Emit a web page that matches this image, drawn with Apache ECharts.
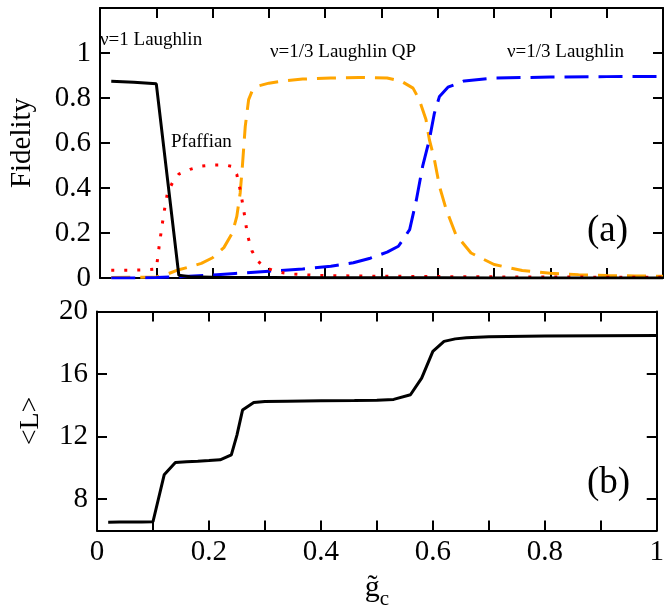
<!DOCTYPE html>
<html>
<head>
<meta charset="utf-8">
<script src="https://cdn.jsdelivr.net/npm/echarts@6/dist/echarts.min.js"></script>
<style>
html,body{margin:0;padding:0;background:#fff;}
#chart{width:667px;height:612px;}
</style>
</head>
<body>
<div id="chart"></div>
<script>
// ---- Data ----
// Panel (a): Fidelity vs g_c
var nu1X = [0.02,0.04,0.06,0.08,0.10,0.12,0.14,0.16,0.20,0.30,0.40,0.50,0.60,0.70,0.80,0.90,1.00];
var nu1Y = [0.874,0.872,0.870,0.867,0.863,0.437,0.012,0.006,0.003,0.002,0.001,0.001,0.001,0,0,0,0];

var pfX = [0.02,0.04,0.06,0.08,0.10,0.105,0.11,0.115,0.12,0.13,0.14,0.16,0.18,0.20,0.22,0.235,0.243,0.25,0.256,0.262,0.27,0.28,0.29,0.30,0.32,0.34,0.38,0.45,0.55,0.70,0.85,1.00];
var pfY = [0.035,0.035,0.035,0.036,0.04,0.14,0.23,0.31,0.38,0.43,0.462,0.483,0.497,0.502,0.503,0.496,0.46,0.38,0.29,0.19,0.12,0.075,0.055,0.04,0.025,0.018,0.012,0.009,0.007,0.005,0.004,0.003];

var qpX = [0.02,0.06,0.10,0.12,0.14,0.16,0.18,0.20,0.22,0.235,0.243,0.249,0.253,0.258,0.264,0.27,0.28,0.30,0.32,0.36,0.41,0.46,0.51,0.535,0.556,0.567,0.579,0.585,0.594,0.603,0.615,0.632,0.659,0.70,0.75,0.80,0.85,0.90,0.95,1.00];
var qpY = [0.002,0.003,0.005,0.018,0.037,0.05,0.065,0.09,0.135,0.2,0.274,0.378,0.5,0.674,0.793,0.83,0.853,0.866,0.874,0.884,0.889,0.891,0.889,0.875,0.844,0.793,0.704,0.615,0.526,0.407,0.304,0.193,0.111,0.06,0.033,0.021,0.015,0.011,0.009,0.008];

var nu13X = [0.02,0.06,0.10,0.14,0.20,0.24,0.30,0.36,0.41,0.45,0.48,0.51,0.53,0.55,0.562,0.573,0.585,0.594,0.603,0.618,0.647,0.70,0.80,0.90,1.00];
var nu13Y = [0.0,0.0,0.002,0.006,0.013,0.02,0.03,0.04,0.052,0.068,0.088,0.115,0.141,0.215,0.348,0.496,0.615,0.733,0.807,0.848,0.876,0.889,0.893,0.895,0.896];

// Panel (b): <L> vs g_c
var lX = [0.02,0.04,0.06,0.08,0.10,0.12,0.14,0.16,0.18,0.20,0.22,0.24,0.25,0.26,0.28,0.30,0.34,0.40,0.46,0.50,0.53,0.56,0.58,0.60,0.62,0.64,0.66,0.70,0.80,0.90,1.00];
var lY = [6.53,6.54,6.54,6.55,6.56,9.56,10.34,10.40,10.43,10.47,10.52,10.84,12.1,13.7,14.18,14.24,14.27,14.29,14.31,14.33,14.38,14.68,15.74,17.45,18.09,18.25,18.32,18.38,18.43,18.45,18.47];

// Tick labels
var xTickLabels = [0,0.2,0.4,0.6,0.8,1];
var fidTickLabels = [0,0.2,0.4,0.6,0.8,1];
var lTickLabels = [8,12,16,20];

var annotations = {
  nu1: '\u03bd=1 Laughlin',
  qp: '\u03bd=1/3 Laughlin QP',
  nu13: '\u03bd=1/3 Laughlin',
  pf: 'Pfaffian',
  a: '(a)',
  b: '(b)'
};

function zip(xs, ys){ return xs.map(function(x,i){ return [x, ys[i]]; }); }

var FONT = 'Liberation Serif';
var tickStyle = {inside:true, length:10, lineStyle:{color:'#000', width:2}};
var lineStyle = {onZero:false, lineStyle:{color:'#000', width:2}};
function fmt(v){ return String(Math.round(v*10)/10); }

var chart = echarts.init(document.getElementById('chart'), null, {renderer:'canvas'});
var option = {
  animation:false,
  backgroundColor:'#fff',
  grid:[
    {left:97, right:4, top:8, height:270},
    {left:97, right:4, top:311.5, height:219}
  ],
  xAxis:[
    {gridIndex:0, type:'value', position:'bottom', min:0, max:1, interval:0.1,
     axisLine:lineStyle, axisTick:tickStyle, axisLabel:{show:false}, splitLine:{show:false}},
    {gridIndex:0, type:'value', position:'top', min:0, max:1, interval:0.1,
     axisLine:lineStyle, axisTick:tickStyle, axisLabel:{show:false}, splitLine:{show:false}},
    {gridIndex:1, type:'value', position:'bottom', min:0, max:1, interval:0.1,
     axisLine:lineStyle, axisTick:tickStyle,
     axisLabel:{customValues:xTickLabels, formatter:fmt, fontFamily:FONT, fontSize:29, color:'#000', margin:7},
     splitLine:{show:false},
     name:'{g|g\u0303}{c|c}', nameLocation:'middle', nameGap:36,
     nameTextStyle:{fontFamily:FONT, color:'#000', fontSize:30,
       rich:{g:{fontFamily:FONT, fontSize:30, color:'#000'},
             c:{fontFamily:FONT, fontSize:21, color:'#000', padding:[22,0,0,0]}}}},
    {gridIndex:1, type:'value', position:'top', min:0, max:1, interval:0.1,
     axisLine:lineStyle, axisTick:tickStyle, axisLabel:{show:false}, splitLine:{show:false}}
  ],
  yAxis:[
    {gridIndex:0, type:'value', position:'left', min:0, max:1.2, interval:0.2,
     axisLine:lineStyle, axisTick:Object.assign({customValues:[0.2,0.4,0.6,0.8,1]}, tickStyle),
     axisLabel:{customValues:fidTickLabels, formatter:fmt, fontFamily:FONT, fontSize:29, color:'#000', margin:9},
     splitLine:{show:false},
     name:'Fidelity', nameLocation:'middle', nameGap:63, nameRotate:90,
     nameTextStyle:{fontFamily:FONT, fontSize:29, color:'#000'}},
    {gridIndex:0, type:'value', position:'right', min:0, max:1.2, interval:0.2,
     axisLine:lineStyle, axisTick:Object.assign({customValues:[0.2,0.4,0.6,0.8,1]}, tickStyle),
     axisLabel:{show:false}, splitLine:{show:false}},
    {gridIndex:1, type:'value', position:'left', min:6, max:20, interval:2,
     axisLine:lineStyle, axisTick:Object.assign({customValues:[8,12,16]}, tickStyle),
     axisLabel:{customValues:lTickLabels, fontFamily:FONT, fontSize:29, color:'#000', margin:9},
     splitLine:{show:false},
     name:'<L>', nameLocation:'middle', nameGap:52, nameRotate:90,
     nameTextStyle:{fontFamily:FONT, fontSize:28, color:'#000'}},
    {gridIndex:1, type:'value', position:'right', min:6, max:20, interval:2,
     axisLine:lineStyle, axisTick:Object.assign({customValues:[8,12,16]}, tickStyle),
     axisLabel:{show:false}, splitLine:{show:false}}
  ],
  series:[
    {type:'line', xAxisIndex:0, yAxisIndex:0, data:zip(nu1X, nu1Y), showSymbol:false, z:5,
     lineStyle:{color:'#000', width:3}},
    {type:'line', xAxisIndex:0, yAxisIndex:0, data:zip(pfX, pfY), showSymbol:false, z:4,
     lineStyle:{color:'#ff0000', width:3, type:[3,10]}},
    {type:'line', xAxisIndex:0, yAxisIndex:0, data:zip(qpX, qpY), showSymbol:false, z:3,
     lineStyle:{color:'#ffa500', width:3, type:[19,10]}},
    {type:'line', xAxisIndex:0, yAxisIndex:0, data:zip(nu13X, nu13Y), showSymbol:false, z:3,
     lineStyle:{color:'#0000ff', width:3, type:[24,10]}},
    {type:'line', xAxisIndex:2, yAxisIndex:2, data:zip(lX, lY), showSymbol:false,
     lineStyle:{color:'#000', width:3}}
  ],
  graphic:[
    {type:'text', left:100, top:31, style:{text:annotations.nu1, font:'19px "Liberation Serif"', fill:'#000'}},
    {type:'text', left:270, top:43, style:{text:annotations.qp, font:'19px "Liberation Serif"', fill:'#000'}},
    {type:'text', left:507, top:43, style:{text:annotations.nu13, font:'19px "Liberation Serif"', fill:'#000'}},
    {type:'text', left:171, top:133, style:{text:annotations.pf, font:'19px "Liberation Serif"', fill:'#000'}},
    {type:'text', left:587, top:213, style:{text:annotations.a, font:'37px "Liberation Serif"', fill:'#000'}},
    {type:'text', left:587, top:465, style:{text:annotations.b, font:'37px "Liberation Serif"', fill:'#000'}}
  ]
};
chart.setOption(option);
</script>
</body>
</html>
